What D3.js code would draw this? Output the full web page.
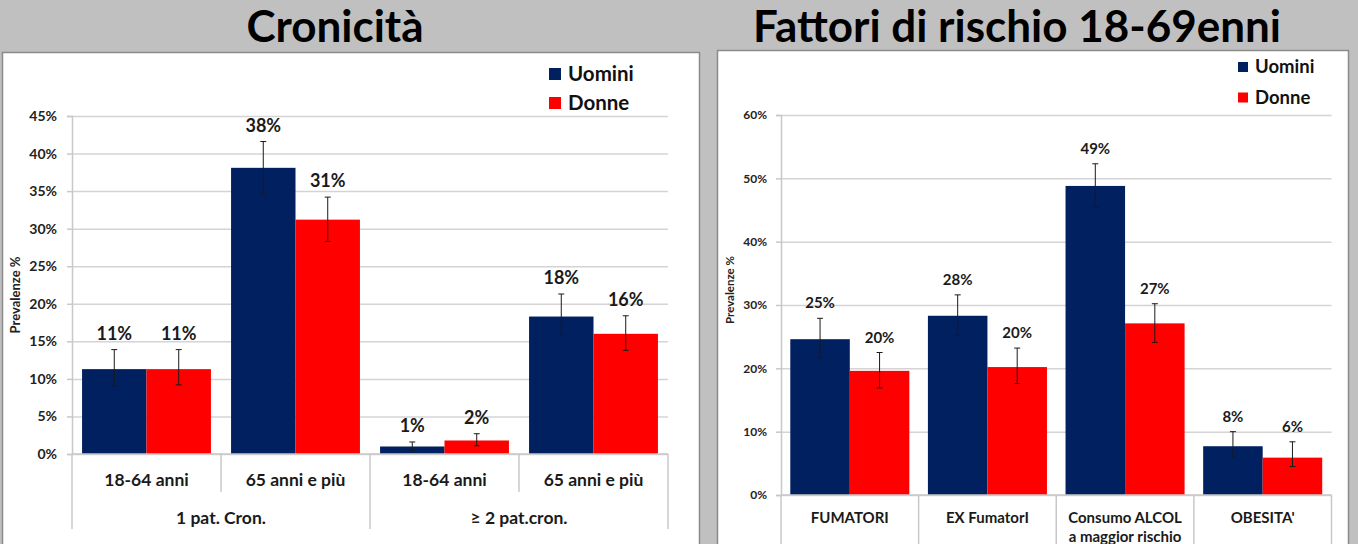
<!DOCTYPE html>
<html>
<head>
<meta charset="utf-8">
<script src="https://cdn.jsdelivr.net/npm/d3@7"></script>
<style>
  body { margin: 0; background: #c0c0c0; }
  svg { display: block; font-family: Lato, "Open Sans", sans-serif; }
  .tick text { font-weight: bold; fill: #222; }
</style>
</head>
<body>
<div id="chart"></div>
<script>
// --- data ---

// Cronicità
var cronCategories = ["18-64 anni", "65 anni e più", "18-64 anni", "65 anni e più"];
var cronGroups = ["1 pat. Cron.", "≥ 2 pat.cron."];
var cronUomini = [11.3, 38.1, 1.0, 18.3];
var cronDonne = [11.3, 31.2, 1.8, 16.0];
var cronUominiLow = [9.1, 34.6, 0.5, 15.8];
var cronUominiHigh = [13.9, 41.6, 1.6, 21.3];
var cronDonneLow = [9.2, 28.3, 1.1, 13.8];
var cronDonneHigh = [13.9, 34.2, 2.7, 18.4];
var cronTicks = [0, 5, 10, 15, 20, 25, 30, 35, 40, 45];

// Fattori di rischio
var rischioCategories = [["FUMATORI"], ["EX FumatorI"], ["Consumo ALCOL", "a maggior rischio"], ["OBESITA'"]];
var rischioUomini = [24.6, 28.3, 48.8, 7.7];
var rischioDonne = [19.6, 20.2, 27.1, 5.9];
var rischioUominiLow = [21.7, 25.2, 45.4, 6.0];
var rischioUominiHigh = [27.9, 31.6, 52.3, 10.0];
var rischioDonneLow = [16.9, 17.6, 24.1, 4.5];
var rischioDonneHigh = [22.5, 23.2, 30.2, 8.4];
var rischioTicks = [0, 10, 20, 30, 40, 50, 60];

var seriesNames = ["Uomini", "Donne"];
var seriesColors = {"Uomini": "#002060", "Donne": "#ff0000"};

var svg = d3.select("#chart").append("svg")
  .attr("width", 1358)
  .attr("height", 544);

// titles
svg.append("text")
  .attr("x", 335).attr("y", 42)
  .attr("text-anchor", "middle")
  .style("font-size", "44px").style("font-weight", "bold")
  .text("Cronicità");

svg.append("text")
  .attr("x", 1017).attr("y", 42)
  .attr("text-anchor", "middle")
  .style("font-size", "44px").style("font-weight", "bold")
  .text("Fattori di rischio 18-69enni");

function drawPanel(opt) {
  // white chart box
  svg.append("rect")
    .attr("x", opt.box[0]).attr("y", opt.box[1])
    .attr("width", opt.box[2]).attr("height", opt.box[3])
    .attr("fill", "#fff")
    .attr("stroke", "#8a8a8a")
    .attr("stroke-width", 1.5);

  var g = svg.append("g");

  var y = d3.scaleLinear()
    .domain([0, opt.max])
    .range([opt.bottom, opt.top]);

  var x = d3.scaleBand()
    .domain(d3.range(opt.n))
    .range([opt.left, opt.right])
    .paddingInner(0.135)
    .paddingOuter(0.0675);

  var xs = d3.scaleBand()
    .domain(seriesNames)
    .range([0, x.bandwidth()]);

  // gridlines
  g.append("g")
    .attr("transform", `translate(${opt.left},0)`)
    .call(d3.axisLeft(y).tickValues(opt.ticks).tickSize(-(opt.right - opt.left)).tickFormat(""))
    .call(a => a.select(".domain").remove())
    .selectAll("line")
      .attr("stroke", "#d4d4d4")
      .attr("stroke-width", 1.5);

  // y axis
  var yAx = g.append("g")
    .attr("transform", `translate(${opt.left},0)`)
    .call(d3.axisLeft(y).tickValues(opt.ticks).tickSize(5).tickPadding(opt.tickPad).tickFormat(d => d + "%"));
  yAx.select(".domain").attr("stroke", "#c8c8c8").attr("stroke-width", 1.5);
  yAx.selectAll(".tick line").attr("stroke", "#c8c8c8").attr("stroke-width", 1.5);
  yAx.selectAll(".tick text").style("font-size", opt.tickFont + "px").style("font-family", "Lato");

  // y title
  g.append("text")
    .attr("transform", `translate(${opt.yTitleX},${opt.yTitleY}) rotate(-90)`)
    .attr("text-anchor", "middle")
    .style("font-size", opt.yTitleFont + "px")
    .style("font-weight", "bold")
    .attr("fill", "#222")
    .text("Prevalenze %");

  // bars
  var rows = [];
  d3.range(opt.n).forEach(function(i) {
    seriesNames.forEach(function(s) {
      rows.push({
        i: i, s: s,
        v: opt.values[s][i],
        lo: opt.low[s][i],
        hi: opt.high[s][i]
      });
    });
  });

  g.selectAll(".bar")
    .data(rows)
    .enter()
    .append("rect")
    .attr("x", d => x(d.i) + xs(d.s))
    .attr("y", d => y(d.v))
    .attr("width", xs.bandwidth())
    .attr("height", d => y(0) - y(d.v))
    .attr("fill", d => seriesColors[d.s]);

  // error bars
  var eb = g.selectAll(".err")
    .data(rows)
    .enter()
    .append("g")
    .attr("stroke", "#1a1a1a")
    .attr("stroke-width", 1);
  eb.append("line")
    .attr("x1", d => x(d.i) + xs(d.s) + xs.bandwidth() / 2)
    .attr("x2", d => x(d.i) + xs(d.s) + xs.bandwidth() / 2)
    .attr("y1", d => y(d.lo))
    .attr("y2", d => y(d.hi));
  eb.selectAll(".cap")
    .data(d => [d, d].map((r, k) => ({r: r, v: k ? r.hi : r.lo})))
    .enter()
    .append("line")
    .attr("x1", c => x(c.r.i) + xs(c.r.s) + xs.bandwidth() / 2 - 3)
    .attr("x2", c => x(c.r.i) + xs(c.r.s) + xs.bandwidth() / 2 + 3)
    .attr("y1", c => y(c.v))
    .attr("y2", c => y(c.v));

  // value labels
  g.selectAll(".lbl")
    .data(rows)
    .enter()
    .append("text")
    .attr("x", d => x(d.i) + xs(d.s) + xs.bandwidth() / 2)
    .attr("y", d => Math.min(y(d.hi) - 10, y(d.v) - 10))
    .attr("text-anchor", "middle")
    .style("font-size", opt.labelFont + "px")
    .style("font-weight", "bold")
    .attr("fill", "#1a1a1a")
    .text(d => Math.round(d.v) + "%");

  // x axis base line
  g.append("line")
    .attr("x1", opt.left).attr("x2", opt.right)
    .attr("y1", y(0)).attr("y2", y(0))
    .attr("stroke", "#c8c8c8").attr("stroke-width", 1.5);

  // category dividers
  var edges = d3.range(opt.n + 1).map(i => i < opt.n ? x(i) - x.step() * x.paddingInner() / 2 : opt.right);
  edges[0] = opt.left;
  g.selectAll(".div")
    .data(edges)
    .enter()
    .append("line")
    .attr("x1", d => d).attr("x2", d => d)
    .attr("y1", y(0))
    .attr("y2", (d, i) => opt.groups && i % 2 === 1 ? opt.divShort : opt.divLong)
    .attr("stroke", "#c8c8c8").attr("stroke-width", 1.5);

  // category labels
  var cl = g.selectAll(".cat")
    .data(opt.categories)
    .enter()
    .append("text")
    .attr("x", (d, i) => x(i) + x.bandwidth() / 2)
    .attr("y", opt.catY)
    .attr("text-anchor", "middle")
    .style("font-size", opt.catFont + "px")
    .style("font-weight", "bold")
    .attr("fill", "#1a1a1a");
  cl.selectAll("tspan")
    .data(d => Array.isArray(d) ? d : [d])
    .enter()
    .append("tspan")
    .attr("x", function() { return d3.select(this.parentNode).attr("x"); })
    .attr("dy", (d, k) => k ? opt.catFont * 1.25 : 0)
    .text(d => d);

  // group labels (two categories per group)
  if (opt.groups) {
    g.selectAll(".grp")
      .data(opt.groups)
      .enter()
      .append("text")
      .attr("x", (d, k) => (x(k * 2) + x(k * 2 + 1) + x.bandwidth()) / 2)
      .attr("y", opt.groupY)
      .attr("text-anchor", "middle")
      .style("font-size", opt.catFont + "px")
      .style("font-weight", "bold")
      .attr("fill", "#1a1a1a")
      .text(d => d);
  }

  // legend
  var lg = g.selectAll(".leg")
    .data(seriesNames)
    .enter()
    .append("g")
    .attr("transform", (d, i) => `translate(${opt.legX},${opt.legY + i * opt.legGap})`);
  lg.append("rect")
    .attr("x", 0).attr("y", -opt.legSq / 2)
    .attr("width", opt.legSq).attr("height", opt.legSq)
    .attr("fill", d => seriesColors[d]);
  lg.append("text")
    .attr("x", opt.legSq + 7)
    .attr("dy", "0.35em")
    .style("font-size", opt.legFont + "px")
    .style("font-weight", "bold")
    .attr("fill", "#111")
    .text(d => d);
}

drawPanel({
  box: [2.5, 52.5, 697, 520],
  n: 4, max: 45, ticks: cronTicks,
  left: 72, right: 668, top: 116, bottom: 454,
  values: {"Uomini": cronUomini, "Donne": cronDonne},
  low: {"Uomini": cronUominiLow, "Donne": cronDonneLow},
  high: {"Uomini": cronUominiHigh, "Donne": cronDonneHigh},
  categories: cronCategories, groups: cronGroups,
  tickFont: 14, tickPad: 10, labelFont: 18, catFont: 17.5,
  yTitleX: 20, yTitleY: 295, yTitleFont: 13,
  catY: 486, groupY: 524, divShort: 492, divLong: 529,
  legX: 549, legY: 74, legGap: 29, legSq: 12, legFont: 20.5
});

drawPanel({
  box: [717.5, 50.5, 631, 520],
  n: 4, max: 60, ticks: rischioTicks,
  left: 781, right: 1331.5, top: 115, bottom: 495,
  values: {"Uomini": rischioUomini, "Donne": rischioDonne},
  low: {"Uomini": rischioUominiLow, "Donne": rischioDonneLow},
  high: {"Uomini": rischioUominiHigh, "Donne": rischioDonneHigh},
  categories: rischioCategories, groups: null,
  tickFont: 12, tickPad: 9, labelFont: 15, catFont: 15,
  yTitleX: 734, yTitleY: 290, yTitleFont: 11.5,
  catY: 523, divShort: 560, divLong: 560,
  legX: 1238, legY: 67, legGap: 30.5, legSq: 10, legFont: 18.5
});
</script>
</body>
</html>
